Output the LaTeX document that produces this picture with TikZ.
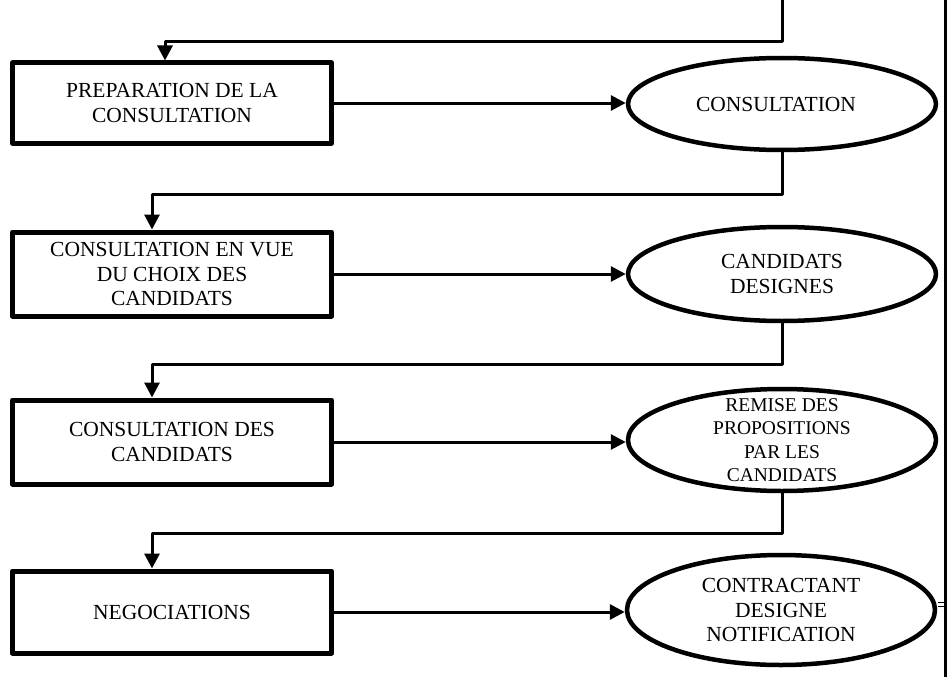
\documentclass[tikz,border=0pt]{standalone}
\usepackage{fontspec}
\setmainfont{Liberation Serif}
\usetikzlibrary{arrows.meta,shapes.geometric}

\begin{document}
\begin{tikzpicture}[x=1pt,y=-1pt,>={Triangle[length=15pt,width=15pt]},
  font=\fontsize{21.5}{24.5}\selectfont,line join=round,
  box/.style={draw,line width=5pt,minimum width=319pt,inner sep=0pt,align=center},
  oval/.style={draw,ellipse,line width=4.5pt,minimum width=308pt,inner sep=0pt},
  txt/.style={align=center,inner sep=0pt},
  link/.style={line width=3pt}]
\useasboundingbox (0,0) rectangle (948,677);
\node[box,minimum height=80pt] (prep) at (172,103) {PREPARATION DE LA\\CONSULTATION};
\node[box,minimum height=84pt] (choix) at (172,274) {CONSULTATION EN VUE\\DU CHOIX DES\\CANDIDATS};
\node[box,minimum height=84pt] (cand) at (172,442) {CONSULTATION DES\\CANDIDATS};
\node[box,minimum height=82pt] (nego) at (172,612) {NEGOCIATIONS};
\node[oval,minimum height=92pt,label={[txt,xshift=-6pt]center:CONSULTATION}] (cons) at (782,104) {};
\node[oval,minimum height=94pt,label={[txt]center:{CANDIDATS\\DESIGNES}}] (desig) at (782,274) {};
\node[oval,minimum height=102pt,label={[txt,font=\fontsize{19.5}{23.5}\selectfont]center:{REMISE DES\\PROPOSITIONS\\PAR LES\\CANDIDATS}}] (remise) at (782,440) {};
\node[oval,minimum height=110pt,label={[txt]center:{CONTRACTANT\\DESIGNE\\NOTIFICATION}}] (contr) at (781,610) {};
\coordinate (top) at (782,0);
\draw[link,->] (top) -- (782,42) -| ([xshift=-7pt]prep.north);
\draw[link,->] (prep.east) -- (prep.east -| cons.west);
\draw[link,->] (choix.east) -- (choix.east -| desig.west);
\draw[link,->] (cand.east) -- (cand.east -| remise.west);
\draw[link,->] (nego.east) -- (nego.east -| contr.west);
\draw[link,->] (cons.south) -- ++(0,42) -| ([xshift=-20pt]choix.north);
\draw[link,->] (desig.south) -- ++(0,41) -| ([xshift=-20pt]cand.north);
\draw[link,->] (remise.south) -- ++(0,40) -| ([xshift=-20pt]nego.north);
\draw[line width=3pt] (945,0) -- (945,677);
\draw[line width=1pt] (938,602) -- (944,602) (938,606) -- (944,606);
\end{tikzpicture}
\end{document}
